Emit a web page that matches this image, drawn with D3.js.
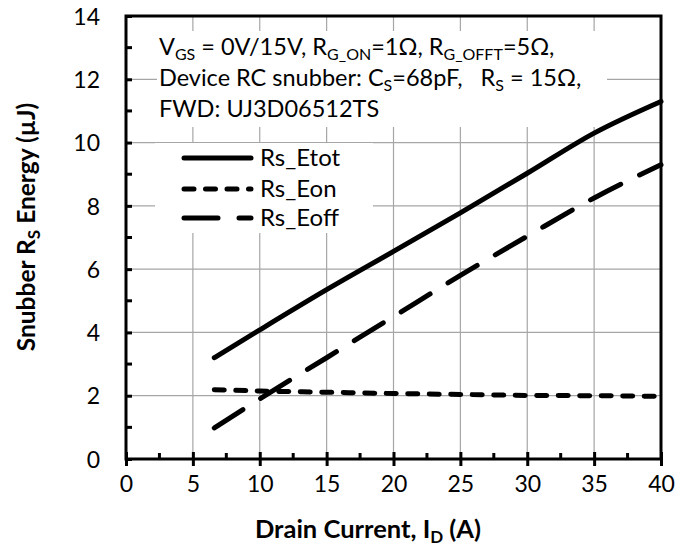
<!DOCTYPE html>
<meta charset="utf-8">
<style>
body { margin: 0; background: #fff; }
svg { font-family: Lato, "Noto Sans", sans-serif; }
.grid line { stroke: #a6a6a6; stroke-width: 1.2px; }
.frame { fill: none; stroke: #000; stroke-width: 3px; }
.line { fill: none; stroke: #000; stroke-width: 5px; stroke-linecap: round; }
</style>
<svg width="693" height="548"></svg>
<script src="https://cdnjs.cloudflare.com/ajax/libs/d3/7.8.5/d3.min.js"></script>
<script>

// chart data
var current = [6.6, 10, 15, 20, 25, 30, 35, 40];
var etot = [3.2, 4.08, 5.35, 6.56, 7.78, 9.03, 10.3, 11.3];
var eon = [2.19, 2.15, 2.11, 2.07, 2.04, 2.01, 2.0, 1.98];
var eoff = [0.98, 1.9, 3.2, 4.5, 5.8, 7.04, 8.25, 9.3];
var seriesNames = ["Rs_Etot", "Rs_Eon", "Rs_Eoff"];
var xTicks = [0, 5, 10, 15, 20, 25, 30, 35, 40];
var yTicks = [0, 2, 4, 6, 8, 10, 12, 14];

var svg = d3.select("svg"),
    margin = {top: 16, right: 32, bottom: 89, left: 126},
    width = 661 - margin.left,
    height = 459 - margin.top,
    g = svg.append("g").attr("transform", "translate(" + margin.left + "," + margin.top + ")");

var x = d3.scaleLinear().domain([0, 40]).range([0, width]),
    y = d3.scaleLinear().domain([0, 14]).range([height, 0]);

var dashes = ["none", "10,11.5", "34,21"];
var series = [etot, eon, eoff].map(function(vals, i) {
  return {id: seriesNames[i], dash: dashes[i], values: current.map(function(c, j) { return {x: c, y: vals[j]}; })};
});

// gridlines
var grid = g.append("g").attr("class", "grid");
grid.selectAll(".gx").data(xTicks.slice(1, -1)).enter().append("line")
    .attr("x1", x).attr("x2", x).attr("y1", 0).attr("y2", height);
grid.selectAll(".gy").data(yTicks.slice(1, -1)).enter().append("line")
    .attr("x1", 0).attr("x2", width).attr("y1", y).attr("y2", y);

// white boxes behind the annotation and the legend
g.append("rect").attr("x", 31).attr("y", 15).attr("width", 450).attr("height", 96).attr("fill", "#fff");
g.append("rect").attr("x", 29).attr("y", 127).attr("width", 218).attr("height", 90).attr("fill", "#fff");

// axes
var xAxis = g.append("g").attr("transform", "translate(0," + height + ")")
    .call(d3.axisBottom(x).tickValues(xTicks).tickSize(7).tickPadding(10));
var yAxis = g.append("g")
    .call(d3.axisLeft(y).tickValues(yTicks).tickSize(9).tickPadding(17));
[xAxis, yAxis].forEach(function(a) {
  a.select(".domain").remove();
  a.selectAll("text").style("font-size", "23px").style("font-family", "Lato").attr("fill", "#000");
  a.selectAll("line").attr("stroke", "#000").attr("stroke-width", 3);
});
xAxis.selectAll(".tick line").attr("y1", -7);
yAxis.selectAll(".tick line").attr("x2", 6);
yAxis.selectAll(".tick text").attr("dy", "0.36em");

// minor ticks, inside only
g.selectAll(".mx").data([2.5, 7.5, 12.5, 17.5, 22.5, 27.5, 32.5, 37.5]).enter().append("line")
    .attr("x1", x).attr("x2", x).attr("y1", height).attr("y2", height - 6)
    .attr("stroke", "#000").attr("stroke-width", 3);
g.selectAll(".my").data([1, 3, 5, 7, 9, 11, 13]).enter().append("line")
    .attr("x1", 0).attr("x2", 6).attr("y1", y).attr("y2", y)
    .attr("stroke", "#000").attr("stroke-width", 3);

// frame
g.append("rect").attr("class", "frame").attr("width", width).attr("height", height);

// curves
var line = d3.line()
    .curve(d3.curveMonotoneX)
    .x(function(d) { return x(d.x); })
    .y(function(d) { return y(d.y); });
g.selectAll(".line").data(series).enter().append("path")
    .attr("class", "line")
    .attr("d", function(d) { return line(d.values); })
    .attr("stroke-dasharray", function(d) { return d.dash; });

// legend
var legend = g.selectAll(".legend").data(series).enter().append("g")
    .attr("transform", function(d, i) { return "translate(56," + [142, 173, 202][i] + ")"; });
legend.append("line")
    .attr("class", "line")
    .attr("x1", 2).attr("x2", 69)
    .attr("stroke-dasharray", function(d) { return d.dash; });
legend.append("text")
    .attr("x", 78).attr("dy", "0.33em")
    .style("font-size", "24px")
    .text(function(d) { return d.id; });

// text with subscripts: parts are [text, subscript]
function subText(el, parts, subSize) {
  var down = false;
  parts.forEach(function(p) {
    var t = el.append("tspan").text(p[0]);
    if (down) t.attr("dy", -5);
    down = false;
    if (p[1]) {
      el.append("tspan").attr("dy", 5).style("font-size", subSize).text(p[1]);
      down = true;
    }
  });
}

// annotation
var noteLines = [
  [["V", "GS"], [" = 0V/15V, R", "G_ON"], ["=1\u03a9, R", "G_OFFT"], ["=5\u03a9,"]],
  [["Device RC snubber: C", "S"], ["=68pF,   R", "S"], [" = 15\u03a9,"]],
  [["FWD: UJ3D06512TS"]]
];
noteLines.forEach(function(parts, i) {
  var t = svg.append("text").attr("x", 159).attr("y", 55 + i * 31)
      .style("font-size", "23.5px").style("white-space", "pre");
  subText(t, parts, "16px");
});

// axis titles
var xt = svg.append("text").attr("x", 368).attr("y", 538).attr("text-anchor", "middle")
    .style("font-size", "25.5px").style("font-weight", "bold");
subText(xt, [["Drain Current, I", "D"], [" (A)"]], "17px");

var yt = svg.append("text").attr("transform", "translate(35,227) rotate(-90)").attr("text-anchor", "middle")
    .style("font-size", "24.5px").style("font-weight", "bold");
subText(yt, [["Snubber R", "S"], [" Energy (\u00b5J)"]], "17px");
</script>
